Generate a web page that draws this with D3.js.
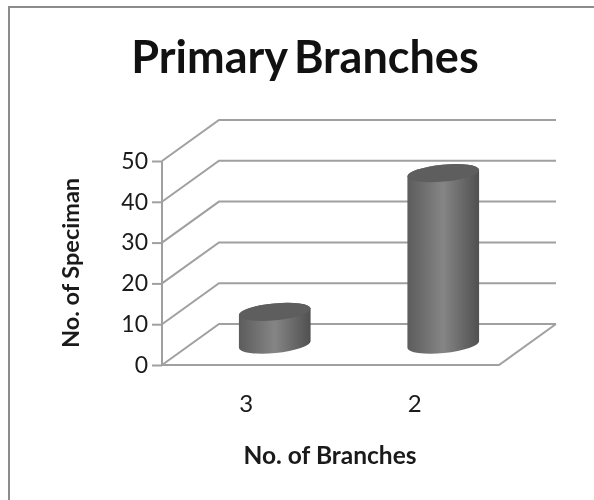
<!DOCTYPE html>
<html>
<head>
<meta charset="utf-8">
<script src="https://cdn.jsdelivr.net/npm/d3@7"></script>
<style>
  html, body { margin: 0; padding: 0; background: #fff; }
  svg { display: block; filter: blur(0.5px); }
  text { font-family: Lato, "Open Sans", sans-serif; fill: #1a1a1a; }
</style>
</head>
<body>
<svg id="chart" width="594" height="500"></svg>
<script>
// Data
const categories = ["3", "2"];
const specimens = [8, 42];
const yTicks = [0, 10, 20, 30, 40, 50];

// Layout
const plotLeft = 162, plotRight = 499, plotBottom = 365, plotTop = 161;
const depthX = 57, depthY = -41;
const lineColor = "#a0a0a0";

const svg = d3.select("#chart");

const x = d3.scaleBand().domain(categories).range([plotLeft, plotRight]);
const y = d3.scaleLinear().domain([0, 50]).range([plotBottom, plotTop]);

// Frame (only top and left show in the picture)
svg.append("path")
    .attr("d", "M9,500V7H594")
    .attr("fill", "none")
    .attr("stroke", "#8c8c8c")
    .attr("stroke-width", 2);

// Gridlines run up the side wall and then along the back wall
const line = d3.line();
svg.selectAll(".grid")
    .data(yTicks)
    .enter()
    .append("path")
    .attr("class", "grid")
    .attr("fill", "none")
    .attr("stroke", lineColor)
    .attr("stroke-width", 2)
    .attr("d", function(d) {
        return line([
            [plotLeft, y(d)],
            [plotLeft + depthX, y(d) + depthY],
            [plotRight + depthX, y(d) + depthY]
        ]);
    });

// Floor front edge and right edge
svg.append("path")
    .attr("fill", "none")
    .attr("stroke", lineColor)
    .attr("stroke-width", 2)
    .attr("d", line([
        [plotLeft, y(0)],
        [plotRight, y(0)],
        [plotRight + depthX, y(0) + depthY]
    ]));

// Y axis
const yAxis = svg.append("g")
    .attr("transform", "translate(" + plotLeft + ",0)")
    .call(d3.axisLeft(y).tickValues(yTicks).tickSize(10).tickPadding(4));
yAxis.selectAll("path, line").attr("stroke", lineColor).attr("stroke-width", 2);
yAxis.select(".domain").attr("d", "M0," + y(0) + "V" + y(50));
yAxis.selectAll("text")
    .style("font-size", "23px")
    .attr("fill", "#1a1a1a");

// X labels
const xAxis = svg.append("g")
    .attr("transform", "translate(0," + plotBottom + ")")
    .call(d3.axisBottom(x).tickSize(0).tickPadding(30));
xAxis.select(".domain").remove();
xAxis.selectAll("text")
    .style("font-size", "24px")
    .attr("fill", "#1a1a1a");

// Cylinders
const defs = svg.append("defs");
const grad = defs.append("linearGradient").attr("id", "cyl");
grad.append("stop").attr("offset", "0%").attr("stop-color", "#5c5c5c");
grad.append("stop").attr("offset", "50%").attr("stop-color", "#858585");
grad.append("stop").attr("offset", "100%").attr("stop-color", "#505050");

const rx = 36, ry = 8.5, tilt = -5.5;
const dx = rx * Math.cos(tilt * Math.PI / 180);
const dy = rx * Math.sin(tilt * Math.PI / 180);
const floorMid = depthY / 2;

const bars = svg.selectAll(".bar")
    .data(specimens)
    .enter()
    .append("g")
    .attr("class", "bar")
    .attr("transform", function(d, i) {
        return "translate(" + (x(categories[i]) + x.bandwidth() / 2 + depthX / 2) + ",0)";
    });

bars.append("path")
    .attr("fill", "url(#cyl)")
    .attr("d", function(d) {
        const yTop = y(d) + floorMid;
        const yBase = y(0) + floorMid;
        return "M" + (-dx) + "," + (yTop - dy) +
            "L" + (-dx) + "," + (yBase - dy) +
            "A" + rx + "," + ry + " " + tilt + " 0 0 " + dx + "," + (yBase + dy) +
            "L" + dx + "," + (yTop + dy) +
            "A" + rx + "," + ry + " " + tilt + " 0 0 " + (-dx) + "," + (yTop - dy) + "Z";
    });

bars.append("ellipse")
    .attr("fill", "#5e5e5e")
    .attr("rx", rx)
    .attr("ry", ry)
    .attr("transform", function(d) {
        return "translate(0," + (y(d) + floorMid) + ") rotate(" + tilt + ")";
    });

// Titles
svg.append("text")
    .attr("x", 305).attr("y", 73)
    .attr("text-anchor", "middle")
    .style("font-size", "45px")
    .style("font-weight", "700")
    .style("word-spacing", "-4px")
    .style("fill", "#111")
    .text("Primary Branches");

svg.append("text")
    .attr("x", 330).attr("y", 464)
    .attr("text-anchor", "middle")
    .style("font-size", "24.5px")
    .style("font-weight", "700")
    .text("No. of Branches");

svg.append("text")
    .attr("transform", "translate(79,263) rotate(-90)")
    .attr("text-anchor", "middle")
    .style("font-size", "23.5px")
    .style("font-weight", "700")
    .text("No. of Speciman");
</script>
</body>
</html>
